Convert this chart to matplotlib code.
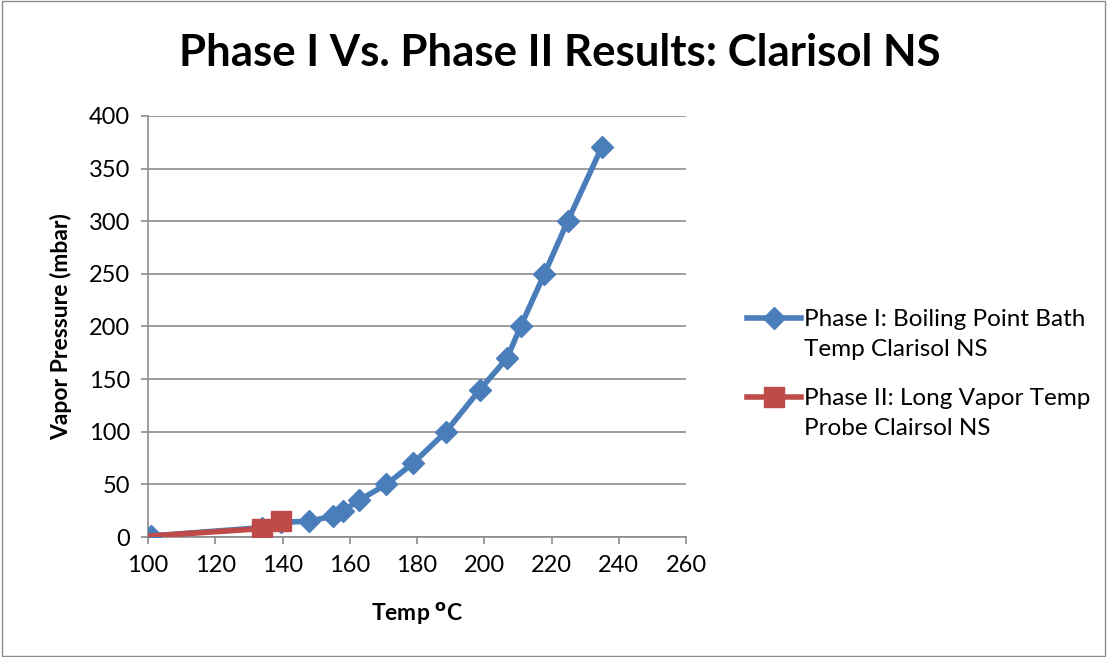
import matplotlib.pyplot as plt

plt.rcParams['font.family'] = ['Lato', 'DejaVu Sans']

# Phase I: boiling point bath temp
phase1_temp = [100.8, 134, 139.6, 148, 155.1, 158.1, 162.8, 170.9, 178.8, 188.6, 198.7, 206.8, 210.8, 217.9, 224.8, 234.9]
phase1_press = [1, 9, 14, 15, 20, 25, 35, 50, 70, 100, 140, 170, 200, 250, 300, 370]

# Phase II: long vapor temp probe
phase2_temp = [100.8, 134, 139.6]
phase2_press = [1, 8, 15]

legend_first = ["Phase I: Boiling Point Bath", "Phase II: Long Vapor Temp"]
legend_second = ["Temp Clarisol NS", "Probe Clairsol NS"]

blue = "#4A7EBB"
red = "#BE4B48"

fig = plt.figure(figsize=(11.07, 6.57), dpi=100)
ax = fig.add_axes([0.1337, 0.1826, 0.486, 0.641])

ax.plot(phase1_temp, phase1_press, color=blue, lw=4, marker="D", ms=11,
        label=legend_first[0], zorder=3)
ax.plot(phase2_temp, phase2_press, color=red, lw=4, marker="s", ms=14,
        markevery=[1, 2], label=legend_first[1], zorder=4)

ax.set_xlim(100, 260)
ax.set_ylim(0, 400)
ax.set_xticks(range(100, 261, 20))
ax.set_yticks(range(0, 401, 50))
ax.grid(axis="y", color="#8c8c8c", lw=1.2)
ax.set_axisbelow(True)
for s in ["top", "right"]:
    ax.spines[s].set_visible(False)
for s in ["left", "bottom"]:
    ax.spines[s].set_color("#8c8c8c")
    ax.spines[s].set_linewidth(1.2)
ax.tick_params(axis="both", labelsize=17, color="#8c8c8c", length=5, width=1.2)
ax.tick_params(axis="x", pad=8)
ax.tick_params(axis="y", pad=8)

ax.set_xlabel(r"Temp $^\mathbf{o}$C", fontsize=16.5, fontweight="bold", labelpad=18)
ax.set_ylabel("Vapor Pressure (mbar)", fontsize=16.5, fontweight="bold", labelpad=12)

fig.text(0.506, 0.92, "Phase I Vs. Phase II Results: Clarisol NS", fontsize=31.5,
         fontweight="bold", ha="center", va="center")

# legend: handle sits on the first line, wrapped second line added below
leg = fig.legend(loc="upper left", bbox_to_anchor=(0.675, 1 - 309 / 657), frameon=False,
                 fontsize=17.5, handlelength=2.2, labelspacing=2.4, handletextpad=0.15,
                 borderaxespad=0, borderpad=0)
fig.canvas.draw()
inv = fig.transFigure.inverted()
for t, extra in zip(leg.get_texts(), legend_second):
    bb = t.get_window_extent()
    x0, y0 = inv.transform((bb.x0, bb.y0 - 30))
    fig.text(x0, y0, extra, fontsize=17.5, ha="left", va="bottom")

fig.patches.append(plt.Rectangle((0.002, 0.002), 0.996, 0.996, transform=fig.transFigure,
                                 fill=False, edgecolor="#8c8c8c", lw=1))

fig.savefig("out.png", dpi=100)
